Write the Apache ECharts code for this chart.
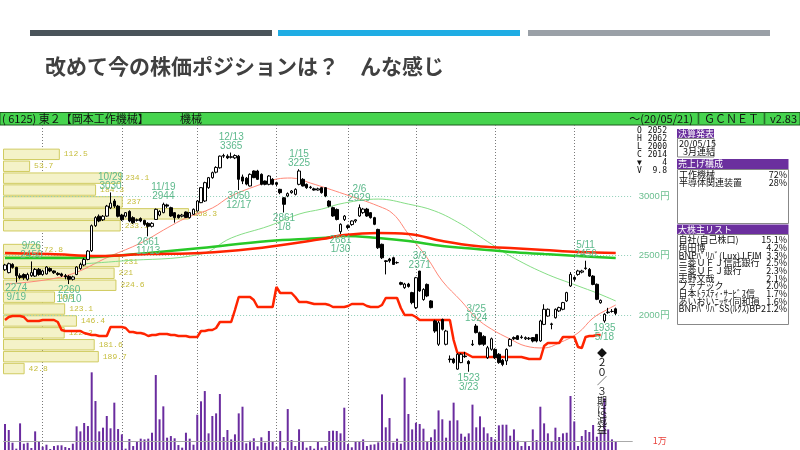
<!DOCTYPE html>
<html><head><meta charset="utf-8">
<script src="https://cdn.jsdelivr.net/npm/echarts@6/dist/echarts.min.js"></script>
<style>html,body{margin:0;padding:0;background:#fff}#c{width:800px;height:450px}</style>
</head><body><div id="c"></div>
<script>
// ---------- data ----------
const dates = ['9/13','9/17','9/18','9/19','9/20','9/24','9/25','9/26','9/27','9/30',
'10/1','10/2','10/3','10/4','10/7','10/8','10/9','10/10','10/11','10/15','10/16','10/17','10/18','10/21','10/23','10/24','10/25','10/28','10/29','10/30','10/31',
'11/1','11/5','11/6','11/7','11/8','11/11','11/12','11/13','11/14','11/15','11/18','11/19','11/20','11/21','11/22','11/25','11/26','11/27','11/28','11/29',
'12/2','12/3','12/4','12/5','12/6','12/9','12/10','12/11','12/12','12/13','12/16','12/17','12/18','12/19','12/20','12/23','12/24','12/25','12/26','12/27','12/30',
'1/6','1/7','1/8','1/9','1/10','1/14','1/15','1/16','1/17','1/20','1/21','1/22','1/23','1/24','1/27','1/28','1/29','1/30','1/31',
'2/3','2/4','2/5','2/6','2/7','2/10','2/12','2/13','2/14','2/17','2/18','2/19','2/20','2/21','2/25','2/26','2/27','2/28',
'3/2','3/3','3/4','3/5','3/6','3/9','3/10','3/11','3/12','3/13','3/16','3/17','3/18','3/19','3/23','3/24','3/25','3/26','3/27','3/30','3/31',
'4/1','4/2','4/3','4/6','4/7','4/8','4/9','4/10','4/13','4/14','4/15','4/16','4/17','4/20','4/21','4/22','4/23','4/24','4/27','4/28','4/30',
'5/1','5/7','5/8','5/11','5/12','5/13','5/14','5/15','5/18','5/19','5/20','5/21'];
const padCats = ['+1','+2','+3','+4'];

// [open, close, low, high]
const candles = [
[2380,2420,2370,2430],[2356,2431,2350,2440],[2425,2400,2390,2435],[2400,2330,2274,2405],[2330,2315,2300,2350],
[2340,2313,2295,2350],[2300,2340,2290,2355],[2330,2356,2320,2450],[2327,2383,2320,2395],[2383,2340,2330,2395],
[2340,2370,2330,2380],[2345,2403,2340,2410],[2390,2370,2360,2400],[2370,2355,2345,2375],[2350,2340,2330,2360],
[2345,2330,2320,2355],[2330,2320,2300,2345],[2325,2300,2260,2335],[2300,2320,2290,2330],[2340,2403,2335,2410],
[2390,2425,2380,2440],[2420,2467,2410,2480],[2467,2537,2460,2545],[2540,2750,2530,2760],[2750,2818,2740,2830],
[2830,2790,2780,2845],[2800,2830,2790,2840],[2831,2915,2825,2925],[2900,2940,2890,3030],[2958,2915,2900,2975],
[2915,2830,2820,2925],[2840,2800,2790,2850],[2830,2860,2820,2865],[2870,2790,2780,2880],[2818,2775,2765,2830],
[2795,2800,2785,2810],[2810,2790,2780,2820],[2795,2762,2750,2800],[2770,2745,2661,2780],[2745,2770,2735,2780],
[2803,2888,2800,2895],[2840,2870,2830,2880],[2860,2930,2855,2944],[2925,2915,2900,2935],[2902,2832,2825,2910],
[2860,2818,2776,2865],[2840,2818,2810,2845],[2830,2840,2820,2850],[2865,2820,2815,2870],[2818,2860,2810,2865],
[2846,2888,2840,2895],[2874,2958,2870,2965],[2944,3070,2940,3075],[2958,3112,2950,3120],[3070,3154,3060,3160],
[3154,3196,3145,3205],[3200,3240,3190,3250],[3237,3335,3230,3340],[3335,3340,3320,3355],[3335,3320,3310,3350],
[3325,3330,3315,3365],[3320,3340,3310,3350],[3335,3140,3050,3345],[3160,3125,3100,3180],[3150,3100,3090,3160],
[3084,3182,3080,3190],[3210,3154,3150,3215],[3210,3140,3135,3220],[3182,3098,3090,3190],[3126,3098,3090,3130],
[3098,3168,3090,3175],[3140,3098,3090,3150],[3112,3098,3080,3120],[3056,3028,3015,3060],[2985,2930,2861,2990],
[3000,3020,2990,3030],[3028,3042,3020,3050],[3014,3056,3005,3065],[3098,3210,3090,3225],[3140,3084,3080,3150],
[3098,3070,3060,3105],[3070,3075,3060,3085],[3060,3050,3045,3070],[3050,3060,3045,3070],[3070,3028,3020,3075],
[3070,3000,2990,3075],[2957,2915,2905,2965],[2902,2832,2825,2910],[2887,2803,2795,2895],[2700,2762,2681,2770],
[2803,2831,2790,2840],[2750,2735,2720,2760],[2760,2790,2750,2795],[2790,2800,2775,2805],[2832,2902,2825,2929],
[2860,2890,2850,2900],[2890,2832,2825,2900],[2860,2818,2810,2865],[2818,2762,2755,2825],[2719,2565,2555,2725],
[2594,2481,2470,2600],[2455,2450,2341,2460],[2470,2455,2440,2480],[2481,2425,2420,2490],[2440,2440,2430,2450],
[2272,2258,2250,2280],[2230,2260,2220,2270],[2260,2240,2230,2270],[2188,2104,2090,2195],[2062,2313,2050,2320],
[2369,2202,2195,2371],[2130,2215,2120,2225],[2257,2160,2150,2265],[2118,2062,2055,2125],[1950,1865,1850,1960],
[1754,1935,1740,1950],[1962,1880,1870,1970],[1754,1865,1745,1875],[1630,1625,1600,1660],[1630,1600,1590,1640],
[1545,1670,1540,1680],[1600,1670,1595,1680],[1655,1650,1640,1690],[1610,1590,1523,1620],[1750,1755,1740,1790],
[1907,1852,1845,1924],[1851,1754,1745,1860],[1820,1754,1740,1830],[1641,1725,1630,1740],[1712,1800,1700,1810],
[1711,1641,1630,1720],[1670,1600,1590,1680],[1620,1585,1570,1630],[1614,1711,1580,1720],[1740,1795,1735,1805],
[1810,1800,1790,1820],[1825,1795,1790,1830],[1810,1815,1800,1830],[1800,1810,1790,1820],[1800,1805,1790,1815],
[1810,1781,1770,1815],[1837,1781,1770,1840],[1782,1950,1775,1960],[1921,2048,1915,2090],[1991,2048,1985,2055],
[1925,1921,1880,1935],[1977,2048,1970,2055],[2034,2062,2025,2070],[2048,2104,2040,2110],[2118,2188,2110,2195],
[2244,2341,2235,2360],[2315,2300,2285,2325],[2341,2370,2330,2380],[2360,2370,2350,2380],[2390,2395,2380,2456],
[2383,2327,2320,2395],[2327,2257,2250,2335],[2258,2132,2125,2265],[2103,2123,2095,2130],[1950,2006,1935,2015],
[2020,2025,2010,2060],[2030,2030,2020,2050],[2052,2014,2000,2062]];

// volume (thousand shares)
const volumes = [28.9,22.2,8.1,1.5,29.6,7.0,8.1,2.2,20.7,10.0,
3.7,5.9,1.1,4.4,5.2,5.2,3.3,2.2,7.0,26.3,
20.7,30.0,26.6,86.3,54.4,20.7,24.8,37.8,24.1,52.6,
23.3,17.4,1.5,12.2,4.4,8.9,12.6,11.8,12.6,19.2,
83.3,34.1,48.5,13.7,15.5,13.0,5.5,2.6,19.2,12.6,
5.9,39.2,54.1,65.5,18.5,37.8,40.7,62.2,14.4,22.2,
11.8,17.4,40.7,48.1,7.4,10.3,13.0,4.1,14.1,8.1,
21.1,9.2,3.7,21.1,2.0,45.5,11.1,4.4,23.0,8.9,
2.6,4.4,1.5,8.9,2.6,4.4,21.1,
21.5,21.1,18.5,47.0,6.6,3.0,10.0,9.2,11.8,4.4,
5.9,6.3,8.5,61.8,25.2,35.5,8.1,12.6,7.0,80.4,
40.0,22.9,30.3,28.9,23.7,9.6,14.1,22.9,44.0,34.1,
13.7,32.6,52.6,33.0,18.1,14.8,18.5,50.4,25.2,37.4,
25.2,18.5,14.4,11.8,27.4,28.1,28.1,15.9,22.9,10.3,
4.4,9.2,4.4,22.9,11.1,48.1,29.6,18.5,9.2,24.8,
14.4,18.5,19.2,60.0,31.8,4.4,15.5,22.2,20.0,27.8,
14.8,19.2,57.4,22.9,11.8,9.8];

// moving averages: [day index, price]
const ma25 = [[0,2260],[16,2328],[28,2496],[36,2605],[43,2731],[48,2815],[55,2899],[60,3000],[68,3100],[72,3142],[76,3151],[81,3109],[90,3016],[99,2916],[103,2848],[107,2680],[112,2479],[116,2286],[121,2118],[125,1975],[129,1882],[134,1798],[138,1740],[143,1723],[147,1765],[152,1849],[156,1975],[160,2050],[162,2084]];
const ma75 = [[20,2428],[31,2454],[52,2512],[60,2647],[70,2748],[78,2848],[84,2890],[90,2941],[99,2974],[107,2932],[114,2874],[121,2764],[125,2680],[129,2596],[134,2496],[143,2353],[152,2244],[157,2185],[162,2118]];
const maLongGreen = [[0,2479],[16,2479],[28,2496],[38,2521],[52,2563],[70,2622],[84,2647],[90,2664],[99,2647],[107,2622],[116,2580],[125,2554],[134,2529],[143,2512],[152,2496],[162,2479]];
const maLongRed = [[0,2521],[12,2512],[25,2496],[38,2512],[52,2521],[65,2554],[84,2638],[90,2672],[99,2689],[107,2680],[116,2622],[125,2580],[134,2563],[143,2546],[152,2529],[162,2521]];

// lower red step indicator (own scale)
const creditLine = [130,133,134,134,134,133,129,129,129,129,
130,130,130,130,128,120,119,119,119,119,
119,117,116,115,115,114,114,114,123,123,
123,123,122,118,118,117,117,116,114,115,
115,116,116,116,115,115,114,114,114,113,
113,113,119,119,120,120,122,128,128,128,
128,140,153,153,153,153,150,143,143,143,
143,143,163,157,157,157,157,153,148,148,
148,147,146,146,146,146,145,143,143,143,
143,144,146,146,146,146,144,143,143,143,
145,152,152,152,152,142,135,135,135,133,
130,130,130,130,130,130,130,130,130,110,
97,97,97,95,93,93,93,93,93,93,
93,93,93,93,93,93,93,93,92,91,
91,91,91,104,107,107,107,107,113,113,
113,113,103,102,113,114,114,115,115];

// price-volume profile
const bands = ['3300','3200','3100','3000','2900','2800','2700','2600','2500','2400','2300','2200','2100','2000','1900','1800','1700','1600','1500'];
const profileVol = [112.5,53.7,234.1,184.3,237,368.3,233.1,'-',72.8,231,221,224.6,103,123.1,146.4,122.2,181.6,189.7,42.8];

const priceTicks = [2000,2500,3000];
const volTicks = [10];
const monthStarts = ['10/1','11/1','12/2','1/6','2/3','3/2','4/1','5/1'];

const highDates = ['9/26','10/29','11/19','12/13','1/15','2/6','3/3','3/25','5/11'];
const highVals  = [2450,3030,2944,3365,3225,2929,2371,1924,2456];
const lowDates  = ['9/19','10/10','11/13','12/17','1/8','1/30','3/23','5/18'];
const lowVals   = [2274,2260,2661,3050,2861,2681,1523,1935];

const ohlcLabels = ['O','H','L','C','▼','V'];
const ohlcValues = ['2052','2062','2000','2014','4','9.8'];
const salesNames = ['工作機械','半導体関連装置'];
const salesPct = ['72%','28%'];
const holderNames = ['自社(自己株口)','角田博','BNPﾊﾟﾘﾊﾞ(Lux)J.FIM','三菱ＵＦＪ信託銀行','三菱ＵＦＪ銀行','志野文哉','ファナック','日本ﾄﾗｽﾃｨ･ｻｰﾋﾞｽ信','あいおいﾆｯｾｲ同和損','BNPﾊﾟﾘﾊﾞSS(ﾙｸｽ)BP2'];
const holderPct = ['15.1%','4.2%','3.3%','2.5%','2.3%','2.1%','2.0%','1.7%','1.6%','1.2%'];

// ---------- chart ----------
const JP = '"Noto Sans CJK JP"';
const cats = dates.concat(padCats);
const GL = 3.1, GW = 629.6;
const teal = '#5db98c';

const graphic = [
  {type:'rect', shape:{x:30,y:30,width:242,height:6}, style:{fill:'#4a545a'}},
  {type:'rect', shape:{x:278,y:30,width:242,height:6}, style:{fill:'#1fade4'}},
  {type:'rect', shape:{x:528,y:30,width:242,height:6}, style:{fill:'#9aa0a7'}},
  {type:'text', x:45, y:66, style:{text:'改めて今の株価ポジションは？　んな感じ', font:'bold 21px '+JP, fill:'#404040', textVerticalAlign:'middle'}},
  {type:'rect', shape:{x:0,y:112.5,width:800,height:12.5}, style:{fill:'#46d44e', stroke:'#1e5a1e', lineWidth:1}},
  {type:'text', x:2, y:119, style:{text:'( 6125) 東２【岡本工作機械】', font:'11px '+JP, fill:'#111', textVerticalAlign:'middle'}},
  {type:'text', x:180, y:119, style:{text:'機械', font:'11px '+JP, fill:'#111', textVerticalAlign:'middle'}},
  {type:'text', x:797, y:119, style:{text:'～(20/05/21)║ＧＣＮＥＴ║v2.83', font:'11px '+JP, fill:'#111', textAlign:'right', textVerticalAlign:'middle'}}
];
ohlcLabels.forEach((t,k)=>{
  const y = 131 + k*7.9;
  graphic.push({type:'text', x:637, y:y, style:{text:t, font:'8px "DejaVu Sans Mono"', fill:'#111', textVerticalAlign:'middle'}});
  graphic.push({type:'text', x:667, y:y, style:{text:ohlcValues[k], font:'8px "DejaVu Sans Mono"', fill:'#111', textAlign:'right', textVerticalAlign:'middle'}});
});
const purple = '#6b2f9e';
graphic.push({type:'rect', shape:{x:677,y:129,width:37,height:9.5}, style:{fill:purple}});
graphic.push({type:'text', x:678, y:134, style:{text:'決算発表', font:'9px '+JP, fill:'#fff', textVerticalAlign:'middle'}});
graphic.push({type:'rect', shape:{x:677.5,y:138.5,width:36.5,height:18.5}, style:{fill:'#fff', stroke:'#888', lineWidth:1}});
graphic.push({type:'text', x:679, y:143.5, style:{text:'20/05/15', font:'9px '+JP, fill:'#111', textVerticalAlign:'middle'}});
graphic.push({type:'text', x:683, y:151.5, style:{text:'3月連結', font:'9px '+JP, fill:'#111', textVerticalAlign:'middle'}});
graphic.push({type:'rect', shape:{x:677,y:159,width:111.5,height:10}, style:{fill:purple}});
graphic.push({type:'text', x:678, y:164, style:{text:'売上げ構成', font:'9px '+JP, fill:'#fff', textVerticalAlign:'middle'}});
graphic.push({type:'rect', shape:{x:677.5,y:169.5,width:111,height:54}, style:{fill:'#fff', stroke:'#888', lineWidth:1}});
salesNames.forEach((t,k)=>{
  const y = 174.5 + k*7.7;
  graphic.push({type:'text', x:679, y:y, style:{text:t, font:'9px '+JP, fill:'#111', textVerticalAlign:'middle'}});
  graphic.push({type:'text', x:787, y:y, style:{text:salesPct[k], font:'9px '+JP, fill:'#111', textAlign:'right', textVerticalAlign:'middle'}});
});
graphic.push({type:'rect', shape:{x:677,y:224.5,width:111.5,height:10}, style:{fill:purple}});
graphic.push({type:'text', x:678, y:229.5, style:{text:'大株主リスト', font:'9px '+JP, fill:'#fff', textVerticalAlign:'middle'}});
graphic.push({type:'rect', shape:{x:677.5,y:234.5,width:111,height:90}, style:{fill:'#fff', stroke:'#888', lineWidth:1}});
holderNames.forEach((t,k)=>{
  const y = 240 + k*7.65;
  graphic.push({type:'text', x:678.5, y:y, style:{text:t, font:'9px '+JP, fill:'#111', textVerticalAlign:'middle'}});
  graphic.push({type:'text', x:787, y:y, style:{text:holderPct[k], font:'9px '+JP, fill:'#111', textAlign:'right', textVerticalAlign:'middle'}});
});
graphic.push({type:'text', z:100, x:602, y:348, style:{text:'◆\n２\n０\n／\n３\n期\nは\n減\n益', font:'10px '+JP, lineHeight:9.6, fill:'#111', textAlign:'center'}});

const markPts = [];
highDates.forEach((d,k)=>markPts.push({coord:[d, highVals[k]], value:highVals[k],
  label:{position:'top', distance:1, formatter: d + '\n' + highVals[k]}}));
lowDates.forEach((d,k)=>markPts.push({coord:[d, lowVals[k]], value:lowVals[k],
  label:{position:'bottom', distance:1, formatter: lowVals[k] + '\n' + d}}));

const option = {
  animation:false,
  backgroundColor:'#fff',
  graphic: graphic,
  grid:[
    {left:GL, top:125, width:GW, height:325, outerBoundsMode:'none'},
    {left:GL, top:360, width:GW, height:90, outerBoundsMode:'none'},
    {left:3, top:148.4, width:400, height:226.1, outerBoundsMode:'none'}
  ],
  xAxis:[
    {type:'category', gridIndex:0, data:cats, boundaryGap:true, axisLine:{show:false}, axisTick:{show:false}, axisLabel:{show:false},
     splitLine:{show:true, alignWithLabel:true, interval:(idx, val)=>monthStarts.indexOf(val) >= 0,
       lineStyle:{color:'#7a7a7a', type:[1,2], width:1}}},
    {type:'category', gridIndex:1, data:cats, boundaryGap:true, axisLine:{show:false}, axisTick:{show:false}, axisLabel:{show:false}, splitLine:{show:false}},
    {type:'value', gridIndex:2, min:0, max:792, show:false}
  ],
  yAxis:[
    {type:'value', gridIndex:0, min:865.5, max:3596.6, position:'right',
     axisLine:{show:false}, axisTick:{show:false}, splitLine:{show:false},
     axisLabel:{show:true, customValues:priceTicks, formatter:v=>String(Math.round(v))+'円', color:'#6cbf90', fontSize:9.5, margin:6, fontFamily:'Liberation Sans'}},
    {type:'value', gridIndex:0, min:0, max:325, show:false},
    {type:'value', gridIndex:1, min:0, max:100, position:'right',
     axisLine:{show:false}, axisTick:{show:false}, splitLine:{show:false},
     axisLabel:{show:true, customValues:volTicks, formatter:()=> '1万', color:'#e8403a', fontSize:9, margin:20, fontFamily:JP}},
    {type:'category', gridIndex:2, data:bands, inverse:true, show:false}
  ],
  series:[
    {type:'bar', name:'profile', xAxisIndex:2, yAxisIndex:3, data:profileVol, z:1,
     barCategoryGap:'4%',
     itemStyle:{color:'#f4f2c8', borderColor:'#d0cb60', borderWidth:1},
     label:{show:true, position:'right', distance:4, color:'#c6bd3c', fontSize:8, fontFamily:'Liberation Mono'}},
    {type:'bar', name:'volume', xAxisIndex:1, yAxisIndex:2, data:volumes, barWidth:2, z:2,
     itemStyle:{color:'#6a2c9f'},
     markLine:{silent:true, symbol:['none','none'], label:{show:false},
       lineStyle:{color:'#aaa', type:'solid', width:1}, data:volTicks.map(v=>({yAxis:v}))}},
    {type:'line', name:'ma25', xAxisIndex:0, yAxisIndex:0, data:ma25, smooth:0.4, showSymbol:false, z:3,
     lineStyle:{color:'#ff8878', width:1},
     markLine:{silent:true, symbol:['none','none'], label:{show:false}, z:2,
       data: priceTicks.map(p=>({yAxis:p, lineStyle:{color:'#8fcfb8', type:[1,2], width:1}}))}},
    {type:'line', name:'ma75', xAxisIndex:0, yAxisIndex:0, data:ma75, smooth:0.4, showSymbol:false, z:3,
     lineStyle:{color:'#86de86', width:1}},
    {type:'line', name:'maG', xAxisIndex:0, yAxisIndex:0, data:maLongGreen, smooth:0.4, showSymbol:false, z:3,
     lineStyle:{color:'#28c828', width:2.5}},
    {type:'line', name:'maR', xAxisIndex:0, yAxisIndex:0, data:maLongRed, smooth:0.4, showSymbol:false, z:3,
     lineStyle:{color:'#ff2400', width:2.5}},
    {type:'line', name:'credit', xAxisIndex:0, yAxisIndex:1, data:creditLine, showSymbol:false, z:3,
     lineStyle:{color:'#ff2400', width:2.5}},
    {type:'candlestick', name:'price', xAxisIndex:0, yAxisIndex:0, data:candles, barWidth:3, z:4,
     itemStyle:{color:'#ffffff', color0:'#000000', borderColor:'#000000', borderColor0:'#000000', borderWidth:1},
     markPoint:{symbol:'rect', symbolSize:1, itemStyle:{color:'rgba(0,0,0,0)'}, silent:true,
       label:{color:teal, fontSize:10, lineHeight:9, fontFamily:'Liberation Sans'},
       data: markPts}}
  ]
};
const chart = echarts.init(document.getElementById('c'));
chart.setOption(option);
</script>
</body></html>
